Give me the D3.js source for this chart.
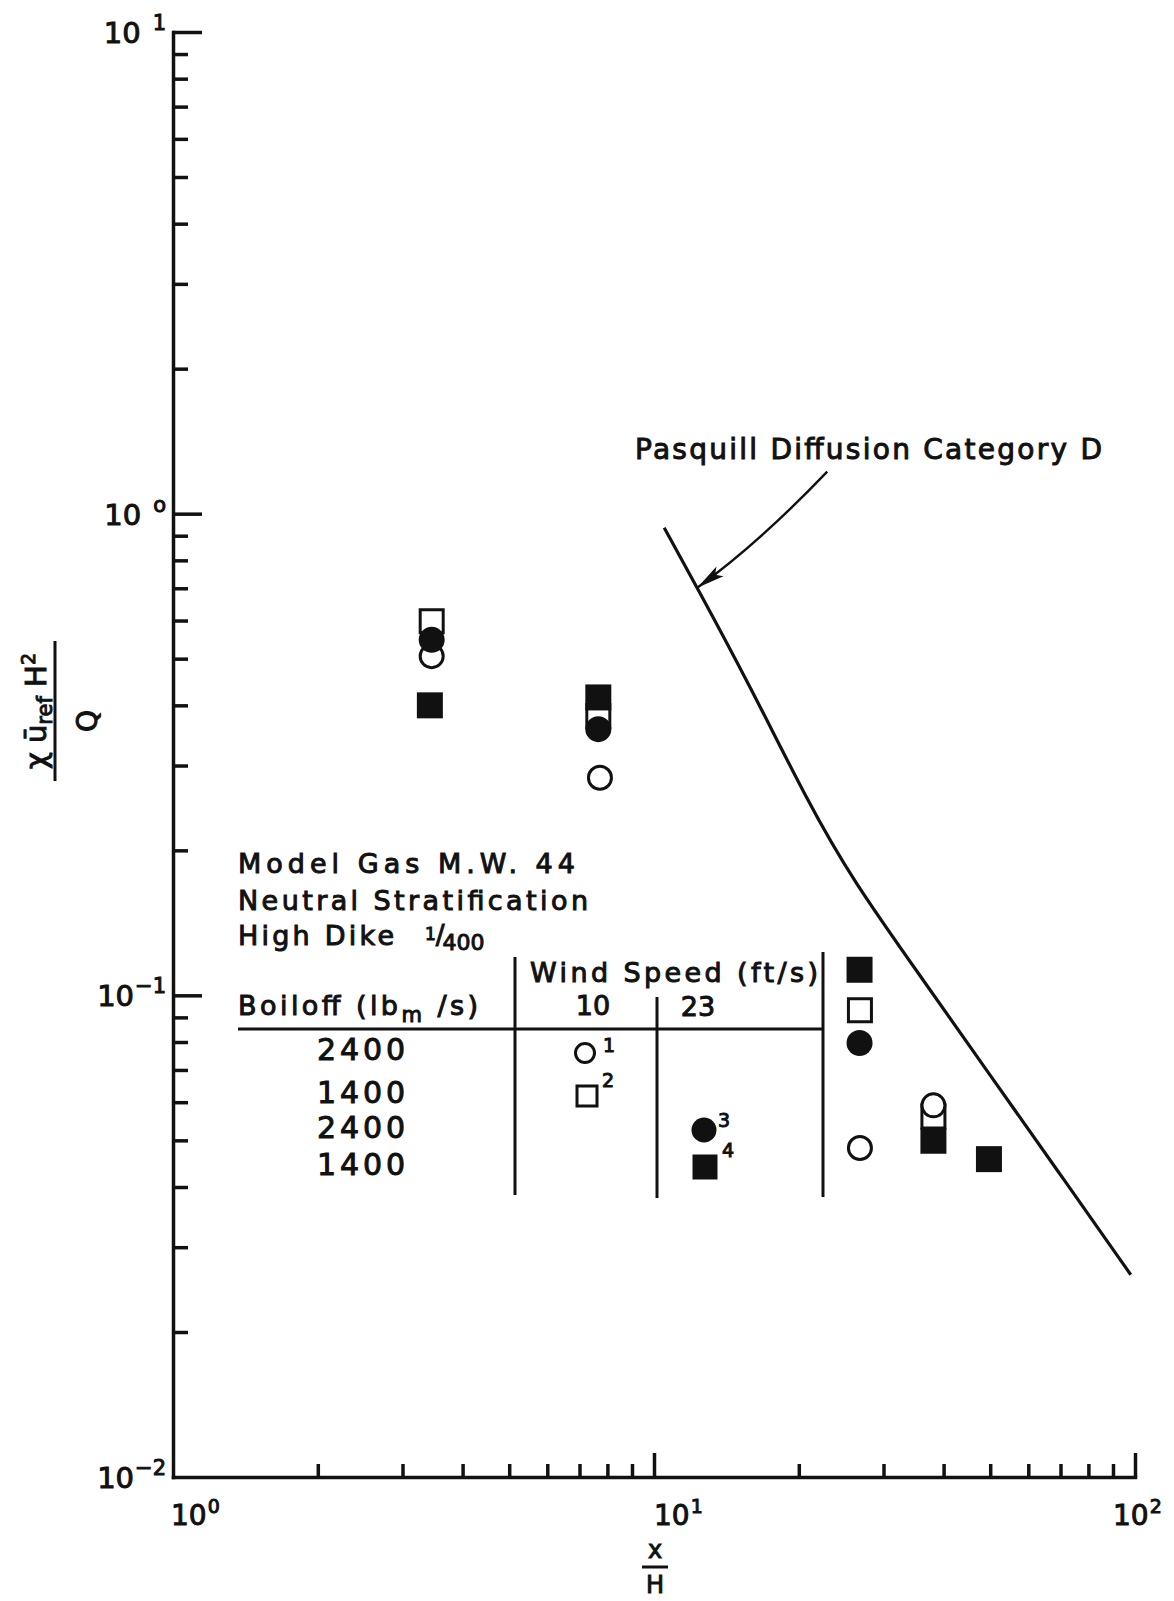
<!DOCTYPE html>
<html lang="en">
<head>
<meta charset="UTF-8">
<title>Concentration vs x/H - High Dike 1/400</title>
<script src="https://d3js.org/d3.v7.min.js"></script>
<style>
  body { margin: 0; background: #fff; }
  svg text {
    font-family: "DejaVu Sans", "Liberation Sans", sans-serif;
    fill: #111;
    stroke: #111;
    stroke-width: 1px;
  }
  .axis path, .axis line { stroke: #111; stroke-width: 3.5px; }
  .ink { stroke: #111; fill: none; }
</style>
</head>
<body>
<div id="chart"></div>
<script>
// --- data ---
// open circle: 10 ft/s, 2400 lbm/s
const openCircleX = [3.45, 7.72, 26.8, 38.1];
const openCircleY = [0.506, 0.283, 0.0482, 0.0591];
// open square: 10 ft/s, 1400 lbm/s
const openSquareX = [3.45, 7.66, 26.8, 38.1];
const openSquareY = [0.598, 0.380, 0.0931, 0.0560];
// filled circle: 23 ft/s, 2400 lbm/s
const filledCircleX = [3.45, 7.66, 26.75];
const filledCircleY = [0.547, 0.357, 0.0796];
// filled square: 23 ft/s, 1400 lbm/s
const filledSquareX = [3.42, 7.66, 26.75, 38.1, 49.7];
const filledSquareY = [0.400, 0.4154, 0.113, 0.0499, 0.0457];

// Pasquill diffusion category D curve
const pasqX = [10.5, 12.3, 15.8, 20.8, 25.9, 36.3, 50, 69, 98];
const pasqY = [0.935, 0.702, 0.441, 0.254, 0.173, 0.1075, 0.0682, 0.0433, 0.0263];

// tick labels (base 10, exponent)
const xTickVals = [1, 10, 100];
const xTickExp = ["0", "1", "2"];
const yTickVals = [10, 1, 0.1, 0.01];
const yTickExp = ["1", "o", "\u22121", "\u22122"];

// table rows
const boiloffRows = ["2400", "1400", "2400", "1400"];

const width = 1174, height = 1601;

const svg = d3.select("#chart").append("svg")
    .attr("width", width)
    .attr("height", height);

const x = d3.scaleLog().domain([1, 100]).range([173, 1135]);
const y = d3.scaleLog().domain([0.01, 10]).range([1477, 32]);

const minorX = x.ticks().filter(v => !xTickVals.includes(v));
const minorY = y.ticks().filter(v => !yTickVals.includes(v));

// y axis: minor + major ticks pointing inward
svg.append("g").attr("class", "axis")
    .attr("transform", `translate(${x(1)},0)`)
    .call(d3.axisRight(y).tickValues(minorY).tickSize(15).tickSizeOuter(0).tickFormat(""));
svg.append("g").attr("class", "axis")
    .attr("transform", `translate(${x(1)},0)`)
    .call(d3.axisRight(y).tickValues([10, 1, 0.1]).tickSize(29).tickFormat(""))
    .select(".domain").remove();

// x axis
svg.append("g").attr("class", "axis")
    .attr("transform", `translate(0,${y(0.01)})`)
    .call(d3.axisTop(x).tickValues(minorX).tickSize(13).tickSizeOuter(0).tickFormat(""));
svg.append("g").attr("class", "axis")
    .attr("transform", `translate(0,${y(0.01)})`)
    .call(d3.axisTop(x).tickValues([10, 100]).tickSize(24).tickFormat(""))
    .select(".domain").remove();

svg.selectAll(".axis path.domain").attr("stroke-linecap", "square");

// y tick labels
yTickVals.forEach((v, i) => {
    const t = svg.append("text")
        .attr("x", 166)
        .attr("y", y(v) + 11)
        .attr("text-anchor", "end")
        .attr("font-size", 29);
    t.append("tspan").text("10");
    t.append("tspan")
        .attr("dx", i < 2 ? 12 : 1)
        .attr("dy", -13)
        .attr("font-size", 21)
        .text(yTickExp[i]);
});

// x tick labels
const xLabelShift = [-2, 0, -22];
xTickVals.forEach((v, i) => {
    const t = svg.append("text")
        .attr("x", x(v) + xLabelShift[i])
        .attr("y", 1525)
        .attr("font-size", 28);
    t.append("tspan").text("10");
    t.append("tspan")
        .attr("dx", 1)
        .attr("dy", -12)
        .attr("font-size", 19)
        .text(xTickExp[i]);
});

// x axis title: x / H
const xt = svg.append("g").attr("transform", "translate(655,0)");
xt.append("text").attr("x", 0).attr("y", 1558).attr("text-anchor", "middle").attr("font-size", 24).text("x");
xt.append("line").attr("class", "ink").attr("x1", -13).attr("x2", 13).attr("y1", 1567).attr("y2", 1567).attr("stroke-width", 3);
xt.append("text").attr("x", 0).attr("y", 1593).attr("text-anchor", "middle").attr("font-size", 24).text("H");

// y axis title: chi u_ref H^2 / Q
const yt = svg.append("g").attr("transform", "translate(55,711) rotate(-90)");
yt.append("line").attr("class", "ink").attr("x1", -70).attr("x2", 70).attr("y1", 0).attr("y2", 0).attr("stroke-width", 3);
const num = yt.append("text").attr("x", 0).attr("y", -9).attr("text-anchor", "middle").attr("font-size", 29);
num.append("tspan").text("\u03c7 \u016b");
num.append("tspan").attr("dy", 6).attr("font-size", 21).text("ref");
num.append("tspan").attr("dy", -6).text(" H");
num.append("tspan").attr("dy", -11).attr("font-size", 19).text("2");
yt.append("text").attr("x", -10).attr("y", 42).attr("text-anchor", "middle").attr("font-size", 28).text("Q");

// Pasquill curve
const line = d3.line()
    .x((d, i) => x(pasqX[i]))
    .y((d, i) => y(pasqY[i]))
    .curve(d3.curveBasis);
svg.append("path")
    .datum(pasqX)
    .attr("class", "ink")
    .attr("stroke-width", 3.2)
    .attr("d", line);

// arrow annotation pointing at the curve
const tip = [x(pasqX[1]), y(pasqY[1])];
const start = [tip[0] + 130, tip[1] - 116];
const ctrl = [tip[0] + 61, tip[1] - 44];
svg.append("path")
    .attr("class", "ink")
    .attr("stroke-width", 2.4)
    .attr("d", `M${start[0]},${start[1]} Q${ctrl[0]},${ctrl[1]} ${tip[0]},${tip[1]}`);
{
    const dx = ctrl[0] - tip[0], dy = ctrl[1] - tip[1];
    const len = Math.hypot(dx, dy), ux = dx / len, uy = dy / len;
    const L = 28, w = 6;
    const bx = tip[0] + ux * L, by = tip[1] + uy * L;
    svg.append("path")
        .attr("fill", "#111")
        .attr("d", `M${tip[0]},${tip[1]} L${bx - uy * w},${by + ux * w} L${tip[0] + ux * (L - 6)},${tip[1] + uy * (L - 6)} L${bx + uy * w},${by - ux * w} Z`);
}
svg.append("text")
    .attr("x", 635).attr("y", 459)
    .attr("font-size", 28)
    .attr("textLength", 467)
    .attr("lengthAdjust", "spacing")
    .text("Pasquill Diffusion Category D");

// data markers
const sym = (type, side) => d3.symbol().type(type).size(type === d3.symbolCircle ? Math.PI * side * side / 4 : side * side)();

function drawSeries(xs, ys, type, side, filled) {
    svg.append("g").selectAll("path")
        .data(xs)
        .join("path")
        .attr("transform", (d, i) => `translate(${x(d)},${y(ys[i])})`)
        .attr("d", sym(type, side))
        .attr("fill", filled ? "#111" : "#fff")
        .attr("stroke", "#111")
        .attr("stroke-width", filled ? 0 : 3);
}
drawSeries(openSquareX, openSquareY, d3.symbolSquare, 23, false);
drawSeries(openCircleX, openCircleY, d3.symbolCircle, 23, false);
drawSeries(filledSquareX, filledSquareY, d3.symbolSquare, 26, true);
drawSeries(filledCircleX, filledCircleY, d3.symbolCircle, 26, true);

// annotation block / legend table
const tb = svg.append("g");
const textAt = (tx, ty, str, size, opts = {}) => {
    const t = tb.append("text").attr("x", tx).attr("y", ty).attr("font-size", size).text(str);
    if (opts.anchor) t.attr("text-anchor", opts.anchor);
    if (opts.len) t.attr("textLength", opts.len).attr("lengthAdjust", "spacing");
    return t;
};
textAt(238, 873, "Model Gas  M.W.  44", 27, { len: 337 });
textAt(238, 910, "Neutral  Stratification", 27, { len: 350 });
textAt(238, 945, "High  Dike", 27, { len: 156 });
const frac = tb.append("text").attr("x", 425).attr("y", 950).attr("font-size", 26);
frac.append("tspan").attr("dy", -10).attr("font-size", 17).text("1");
frac.append("tspan").attr("dy", 4).text("/");
frac.append("tspan").attr("dy", 6).attr("dx", -2).attr("font-size", 22).text("400");

textAt(530, 982, "Wind  Speed  (ft/s)", 27, { len: 288 });
const boil = textAt(238, 1015, "", 27, { len: 240 });
boil.append("tspan").text("Boiloff  (lb");
boil.append("tspan").attr("dy", 7).attr("font-size", 21).text("m");
boil.append("tspan").attr("dy", -7).text(" /s)");
textAt(593, 1015, "10", 27, { anchor: "middle" });
textAt(698, 1016, "23", 27, { anchor: "middle" });

const rowBase = [1060, 1103, 1138, 1175];
boiloffRows.forEach((r, i) => textAt(317, rowBase[i], r, 30, { len: 88 }));

[[238, 1029, 823, 1029], [515, 957, 515, 1195], [657, 997, 657, 1198], [823, 952, 823, 1197]]
    .forEach(l => tb.append("line").attr("class", "ink").attr("stroke-width", 3)
        .attr("x1", l[0]).attr("y1", l[1]).attr("x2", l[2]).attr("y2", l[3]));

// legend markers with footnote numbers
const legend = [
    { cx: 585, cy: 1053, type: d3.symbolCircle, side: 19, filled: false, n: "1", nx: 603, ny: 1052 },
    { cx: 587, cy: 1096, type: d3.symbolSquare, side: 20, filled: false, n: "2", nx: 602, ny: 1087 },
    { cx: 704, cy: 1130, type: d3.symbolCircle, side: 25, filled: true, n: "3", nx: 718, ny: 1127 },
    { cx: 705, cy: 1167, type: d3.symbolSquare, side: 25, filled: true, n: "4", nx: 722, ny: 1157 }
];
legend.forEach(d => {
    tb.append("path")
        .attr("transform", `translate(${d.cx},${d.cy})`)
        .attr("d", sym(d.type, d.side))
        .attr("fill", d.filled ? "#111" : "#fff")
        .attr("stroke", "#111")
        .attr("stroke-width", d.filled ? 0 : 3);
    textAt(d.nx, d.ny, d.n, 19);
});
</script>
</body>
</html>
